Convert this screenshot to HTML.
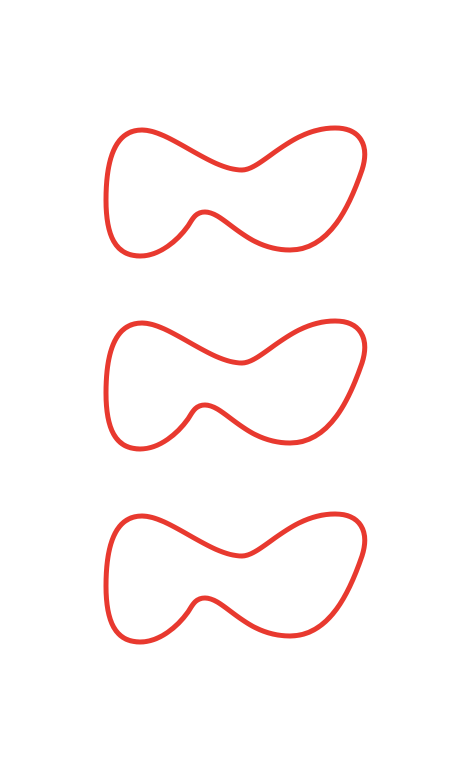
<!DOCTYPE html>
<html>
<head>
<meta charset="utf-8">
<style>
  html,body{margin:0;padding:0;background:#fff;}
  svg{display:block;}
</style>
</head>
<body>
<svg width="469" height="768" viewBox="0 0 469 768">
  <defs>
    <path id="blob" d="M142,130 C170,130 210,170 242,170 C262,170 290,128 335,128 C360,128 370,145 362,170 C350,205 330,250 290,250 C245,250 225,212 205,212 C195,212 192,220 188,226 C178,240 160,256 140,256 C115,256 106,235 106,200 C106,160 115,130 142,130 Z"/>
  </defs>
  <g fill="none" stroke="#e8392f" stroke-width="5" stroke-linejoin="round">
    <use href="#blob"/>
    <use href="#blob" transform="translate(0,193)"/>
    <use href="#blob" transform="translate(0,386)"/>
  </g>
</svg>
</body>
</html>
